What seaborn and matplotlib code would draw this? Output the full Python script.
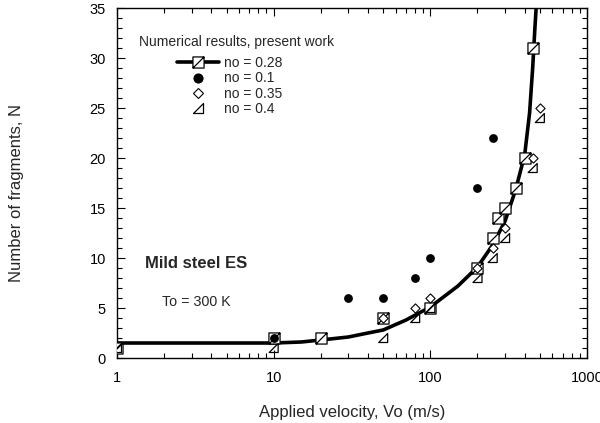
import numpy as np
import pandas as pd
import matplotlib
matplotlib.use("Agg")
import matplotlib.pyplot as plt
from matplotlib.path import Path
from matplotlib.lines import Line2D
from matplotlib.ticker import MultipleLocator, LogLocator, FixedLocator, NullFormatter
import seaborn as sns

# ---- data ----
curve_v = [1, 5, 10, 15, 20, 30, 40, 50, 70, 100, 150, 200, 250, 300, 350, 400, 430, 450, 465, 478]
curve_n = [1.5, 1.5, 1.5, 1.6, 1.8, 2.1, 2.5, 2.8, 3.8, 5.1, 7.2, 9.1, 11.3, 13.7, 16.8, 20.3, 24.5, 29.0, 33.0, 36.0]

sq_v = [1, 10, 20, 50, 100, 200, 250, 270, 300, 350, 400, 450]
sq_n = [1, 2, 2, 4, 5, 9, 12, 14, 15, 17, 20, 31]

circ_v = [10, 30, 50, 80, 100, 200, 250]
circ_n = [2, 6, 6, 8, 10, 17, 22]

dia_v = [50, 80, 100, 200, 250, 300, 450, 500]
dia_n = [4, 5, 6, 9, 11, 13, 20, 25]

tri_v = [1, 10, 50, 80, 100, 200, 250, 300, 450, 500]
tri_n = [1, 1, 2, 4, 5, 8, 10, 12, 19, 24]

legend_title = "Numerical results, present work"
labels = ["no = 0.28", "no = 0.1", "no = 0.35", "no = 0.4"]
x_ticks = [1, 10, 100, 1000]
y_ticks = [0, 5, 10, 15, 20, 25, 30, 35]

# ---- style ----
sns.set_style("ticks")
plt.rcParams["font.family"] = ["Liberation Sans", "DejaVu Sans"]
plt.rcParams["font.size"] = 10

# custom markers
sq_path = Path([(-1, -1), (1, -1), (1, 1), (-1, 1), (-1, -1), (-1, -1), (1, 1)],
               [Path.MOVETO, Path.LINETO, Path.LINETO, Path.LINETO, Path.CLOSEPOLY,
                Path.MOVETO, Path.LINETO])
tri_path = Path([(-1, -1), (1, -1), (1, 1), (-1, -1)],
                [Path.MOVETO, Path.LINETO, Path.LINETO, Path.CLOSEPOLY])

fig = plt.figure(figsize=(6.0, 4.23), dpi=100)
ax = fig.add_axes([117 / 600, 1 - 358 / 423, 470 / 600, 350 / 423])

curve_df = pd.DataFrame({"v": curve_v, "n": curve_n})
sns.lineplot(data=curve_df, x="v", y="n", ax=ax, color="black", linewidth=2.6,
             sort=False, estimator=None, zorder=2)

sns.scatterplot(x=sq_v, y=sq_n, ax=ax, marker=sq_path, s=64, facecolor="white",
                edgecolor="black", linewidth=0.9, zorder=3)
sns.scatterplot(x=circ_v, y=circ_n, ax=ax, marker="o", s=40, color="black",
                edgecolor="black", linewidth=0, zorder=4)
sns.scatterplot(x=dia_v, y=dia_n, ax=ax, marker="D", s=22, facecolor="white",
                edgecolor="black", linewidth=0.8, zorder=5)
sns.scatterplot(x=tri_v, y=tri_n, ax=ax, marker=tri_path, s=42, facecolor="none",
                edgecolor="black", linewidth=0.9, zorder=6)

ax.set_xscale("log")
ax.set_xlim(1, 1000)
ax.set_ylim(0, 35)
ax.xaxis.set_major_locator(FixedLocator(x_ticks))
ax.set_xticklabels([str(t) for t in x_ticks])
ax.xaxis.set_minor_locator(LogLocator(base=10, subs=np.arange(2, 10)))
ax.xaxis.set_minor_formatter(NullFormatter())
ax.yaxis.set_major_locator(FixedLocator(y_ticks))
ax.set_yticklabels([str(t) for t in y_ticks])
ax.yaxis.set_minor_locator(MultipleLocator(1))

for s in ax.spines.values():
    s.set_visible(True)
    s.set_linewidth(1.0)
    s.set_color("black")
ax.tick_params(which="both", direction="in", top=True, right=True, color="black",
               width=0.8, labelsize=10.5, labelcolor="black")
ax.tick_params(which="major", length=6)
ax.tick_params(which="minor", length=3.5)
ax.tick_params(axis="x", which="major", pad=9.5)
ax.tick_params(axis="y", which="major", pad=8)

ax.set_xlabel("Applied velocity, Vo (m/s)", fontsize=12)
ax.set_ylabel("Number of fragments, N", fontsize=12)
ax.xaxis.set_label_coords(0.5, -0.135)
ax.yaxis.set_label_coords(-0.198, 0.471)

ax.text(0.06, 0.271, "Mild steel ES", transform=ax.transAxes, fontsize=12,
        fontweight="bold", va="center", ha="left")
ax.text(0.096, 0.16, "To = 300 K", transform=ax.transAxes, fontsize=10.3,
        va="center", ha="left")

ax.text((139 - 117) / 470, (358 - 42) / 350, legend_title, transform=ax.transAxes,
        fontsize=10, va="center", ha="left")

handles = [
    Line2D([], [], color="black", linewidth=2.6, marker=sq_path, markersize=8,
           markerfacecolor="white", markeredgecolor="black", markeredgewidth=0.9),
    Line2D([], [], linestyle="none", marker="o", markersize=6.3, color="black"),
    Line2D([], [], linestyle="none", marker="D", markersize=4.7,
           markerfacecolor="white", markeredgecolor="black", markeredgewidth=0.8),
    Line2D([], [], linestyle="none", marker=tri_path, markersize=6.5,
           markerfacecolor="none", markeredgecolor="black", markeredgewidth=0.9),
]
ax.legend(handles, labels, loc="upper left",
          bbox_to_anchor=((177 - 117) / 470, (358 - 56) / 350),
          frameon=False, borderaxespad=0, borderpad=0, handlelength=3.0,
          handletextpad=0.36, labelspacing=0.1, fontsize=10)

fig.savefig("out.png", dpi=100)
